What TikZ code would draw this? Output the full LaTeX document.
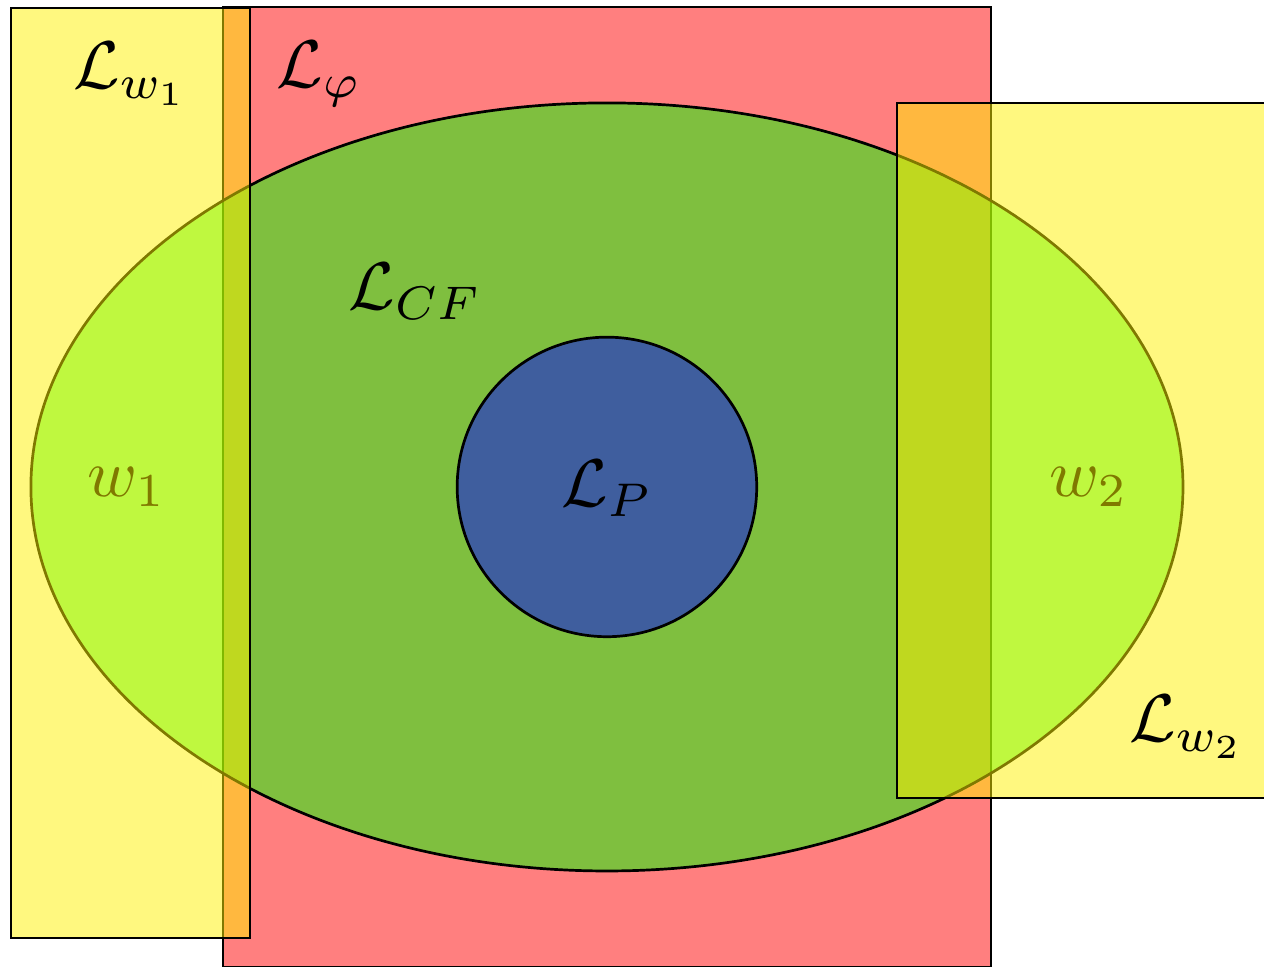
\documentclass[tikz,border=0pt]{standalone}
\usepackage{amsmath,amssymb}
\usepackage{xcolor}
\usepackage{tikz}

\begin{document}
\begin{tikzpicture}[
    region/.style={draw, fill opacity=0.5},
    lang/.style={inner sep=1pt}
]
\clip (-3.161,-2.495) rectangle (3.422,2.536);
\draw[region, fill=red] (-2,-2.5) rectangle (2,2.5);
\draw[region, fill=green] (0,0) ellipse (3cm and 2cm);
\draw[region, fill=blue] (0,0) circle (0.78cm);
\node[lang] (w1) at (-2.5,0) {$w_1$};
\node[lang] (w2) at (2.51,0) {$w_2$};
\draw[region, fill=yellow] (-3.104,-2.349) rectangle (-1.859,2.495);
\draw[region, fill=yellow] (1.51,-1.62) rectangle (3.6,2.0);

\node[lang] (lw1) at (-2.48,2.15) {$\mathcal{L}_{w_1}$};
\node[lang] (lphi) at (-1.50,2.15) {$\mathcal{L}_{\varphi}$};
\node[lang] (lcf) at (-1.0,1.02) {$\mathcal{L}_{CF}$};
\node[lang] (lp) at (0,-0.01) {$\mathcal{L}_P$};
\node[lang] (lw2) at (3.02,-1.25) {$\mathcal{L}_{w_2}$};
\end{tikzpicture}
\end{document}
